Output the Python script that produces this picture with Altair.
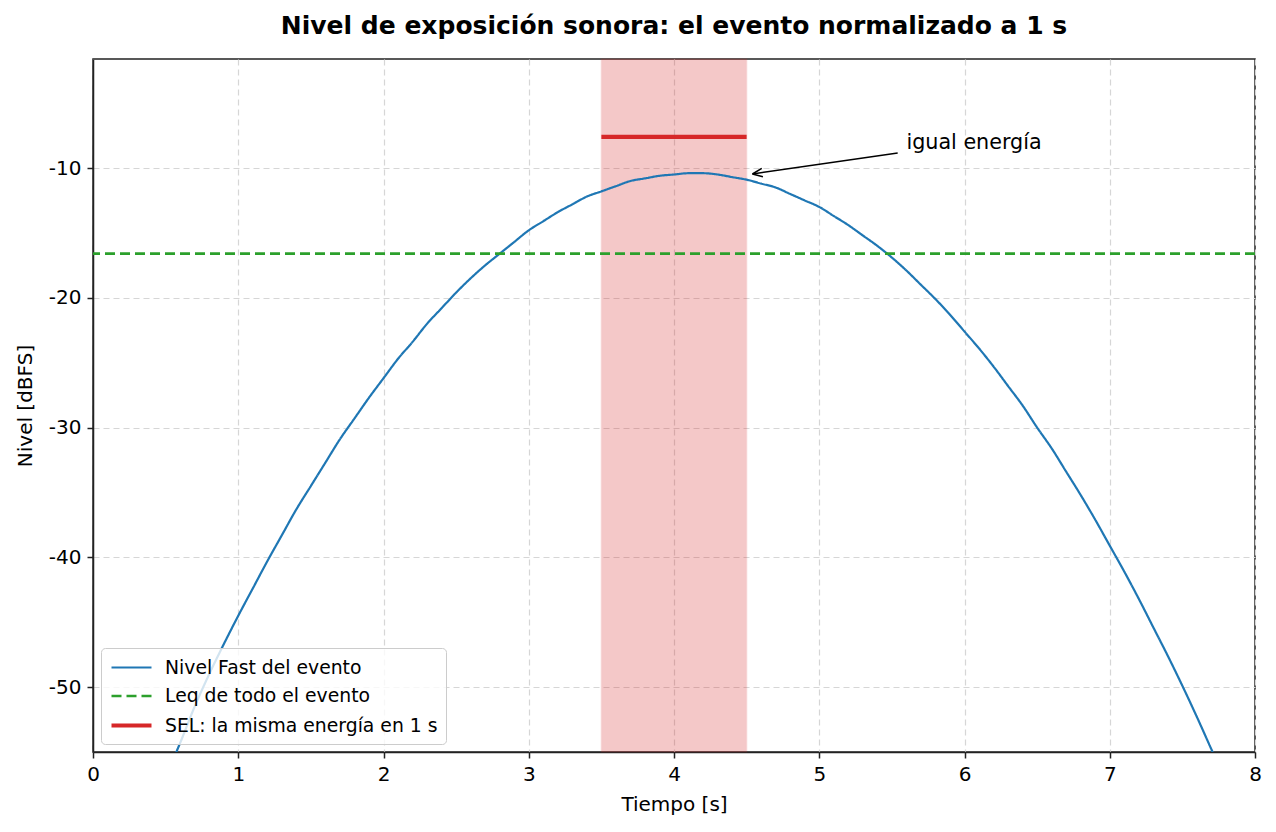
import altair as alt
import pandas as pd

# ---- data ----
tiempo = [0.5, 0.6, 0.7, 0.8, 0.9, 1.0, 1.1, 1.2, 1.3, 1.4, 1.5, 1.6, 1.7, 1.8, 1.9,
          2.0, 2.1, 2.2, 2.3, 2.4, 2.5, 2.6, 2.7, 2.8, 2.9, 3.0, 3.1, 3.2, 3.3, 3.4,
          3.5, 3.6, 3.7, 3.8, 3.9, 4.0, 4.1, 4.2, 4.3, 4.4, 4.5, 4.6, 4.7, 4.8, 4.9,
          5.0, 5.1, 5.2, 5.3, 5.4, 5.5, 5.6, 5.7, 5.8, 5.9, 6.0, 6.1, 6.2, 6.3, 6.4,
          6.5, 6.6, 6.7, 6.8, 6.9, 7.0, 7.1, 7.2, 7.3, 7.4, 7.5, 7.6, 7.7, 7.8]
nivel = [-56.9, -54.3, -51.5, -49.0, -46.7, -44.5, -42.4, -40.3, -38.3, -36.3,
         -34.5, -32.7, -30.9, -29.3, -27.7, -26.2, -24.7, -23.4, -22.0, -20.8,
         -19.6, -18.5, -17.5, -16.6, -15.7, -14.8, -14.1, -13.4, -12.8, -12.2,
         -11.8, -11.4, -11.0, -10.8, -10.6, -10.5, -10.4, -10.4, -10.5, -10.7,
         -10.9, -11.2, -11.5, -12.0, -12.5, -13.0, -13.7, -14.4, -15.2, -16.0,
         -16.9, -17.9, -19.0, -20.1, -21.3, -22.6, -23.9, -25.3, -26.8, -28.3,
         -30.0, -31.6, -33.4, -35.2, -37.1, -39.1, -41.1, -43.2, -45.4, -47.6,
         -49.9, -52.3, -54.8, -57.3]

series = ["Nivel Fast del evento", "Leq de todo el evento", "SEL: la misma energía en 1 s"]
leq_value = -16.6
sel_value = -7.6
sel_start = 3.5
sel_end = 4.5
annot_text = "igual energía"
annot_text_pos = (5.6, -8.5)
arrow_tail = (5.54, -8.84)
arrow_tip = (4.54, -10.46)

x_domain = [0, 8]
y_domain = [-55, -1.6]
x_ticks = [0, 1, 2, 3, 4, 5, 6, 7, 8]
y_ticks = [-50, -40, -30, -20, -10]

colors = ["#1f77b4", "#2ca02c", "#d62728"]
dashes = [[1, 0], [10, 5], [1, 0]]
widths = [2.2, 2.6, 4.2]

FONT = "DejaVu Sans"

curve_df = pd.DataFrame({"t": tiempo, "L": nivel, "serie": series[0]})
leq_df = pd.DataFrame({"L": [leq_value], "serie": [series[1]]})
sel_df = pd.DataFrame({"t": [sel_start], "t2": [sel_end], "L": [sel_value], "serie": [series[2]]})
span_df = pd.DataFrame({"t": [sel_start], "t2": [sel_end]})
arrow_df = pd.DataFrame({"t": [arrow_tail[0]], "L": [arrow_tail[1]],
                         "t2": [arrow_tip[0]], "L2": [arrow_tip[1]]})
tip_df = pd.DataFrame({"t": [arrow_tip[0]], "L": [arrow_tip[1]]})
text_df = pd.DataFrame({"t": [annot_text_pos[0]], "L": [annot_text_pos[1]], "txt": [annot_text]})

xscale = alt.Scale(domain=x_domain, nice=False, zero=False)
yscale = alt.Scale(domain=y_domain, nice=False, zero=False)

xaxis = alt.Axis(title="Tiempo [s]", values=x_ticks, labelExpr="'' + datum.value", labelFlush=False)
yaxis = alt.Axis(title="Nivel [dBFS]", values=y_ticks, labelExpr="'' + datum.value", labelFlush=False)

legend = alt.Legend(
    orient="bottom-left", title=None, symbolType="M-1,0L3,0", symbolSize=400,
    labelFontSize=18.8, labelFont=FONT, labelColor="black", labelLimit=500,
    fillColor="rgba(255,255,255,0.8)", strokeColor="#cccccc", cornerRadius=4,
    padding=8, offset=8, rowPadding=6.5, labelOffset=31,
)
color_enc = alt.Color("serie:O", scale=alt.Scale(type="ordinal", domain=series, range=colors),
                      legend=legend, sort=series)
dash_enc = alt.StrokeDash("serie:O", scale=alt.Scale(type="ordinal", domain=series, range=dashes),
                          legend=legend, sort=series)
width_enc = alt.StrokeWidth("serie:O", scale=alt.Scale(type="ordinal", domain=series, range=widths),
                            legend=legend, sort=series)

span = alt.Chart(span_df).mark_rect(
    color="#d62728", opacity=0.25, stroke="#d62728", strokeOpacity=0.45, strokeWidth=1.5
).encode(
    x=alt.X("t:Q", scale=xscale, axis=xaxis),
    x2="t2:Q",
    y=alt.value(0),
    y2=alt.value(693),
)

curve = alt.Chart(curve_df).mark_line(clip=True, interpolate="monotone").encode(
    x=alt.X("t:Q", scale=xscale, axis=xaxis),
    y=alt.Y("L:Q", scale=yscale, axis=yaxis),
    color=color_enc, strokeDash=dash_enc, strokeWidth=width_enc,
)

leq = alt.Chart(leq_df).mark_rule().encode(
    y=alt.Y("L:Q", scale=yscale, axis=yaxis),
    color=color_enc, strokeDash=dash_enc, strokeWidth=width_enc,
)

sel = alt.Chart(sel_df).mark_rule().encode(
    x=alt.X("t:Q", scale=xscale, axis=xaxis), x2="t2:Q",
    y=alt.Y("L:Q", scale=yscale, axis=yaxis),
    color=color_enc, strokeDash=dash_enc, strokeWidth=width_enc,
)

arrow = alt.Chart(arrow_df).mark_rule(color="black", strokeWidth=1.5).encode(
    x=alt.X("t:Q", scale=xscale), x2="t2:Q",
    y=alt.Y("L:Q", scale=yscale), y2="L2:Q",
)

head = alt.Chart(tip_df).mark_point(
    shape="M0,0L1,-0.42M0,0L1,0.42", filled=False, color="black",
    strokeWidth=1.5, size=400, angle=352, opacity=1,
).encode(
    x=alt.X("t:Q", scale=xscale), y=alt.Y("L:Q", scale=yscale),
)

text = alt.Chart(text_df).mark_text(
    align="left", baseline="alphabetic", font=FONT, fontSize=20.7, color="black"
).encode(
    x=alt.X("t:Q", scale=xscale), y=alt.Y("L:Q", scale=yscale), text="txt:N",
)

chart = alt.layer(span, curve, leq, sel, arrow, head, text).properties(
    width=1162, height=693,
    autosize=alt.AutoSizeParams(type="none"),
    padding={"left": 93, "top": 59, "right": 21, "bottom": 80},
    title=alt.Title(
        "Nivel de exposición sonora: el evento normalizado a 1 s",
        font=FONT, fontSize=25, fontWeight="bold", color="black", offset=19, anchor="middle",
    ),
).configure_view(
    stroke="#222222", strokeWidth=1.5
).configure_axis(
    labelFont=FONT, titleFont=FONT, labelFontSize=20, titleFontSize=20,
    labelColor="black", titleColor="black", titleFontWeight="normal",
    tickColor="#222222", tickSize=6, tickWidth=1.5, domainColor="#222222", domainWidth=1.5,
    gridColor="#d6d6d6", gridDash=[6, 4], gridWidth=1.2, labelPadding=6, labelFlush=False,
).configure_axisY(
    titlePadding=13
).configure_axisX(
    titlePadding=10
)

chart.save("out.html", embed_options={"renderer": "svg", "actions": False})
